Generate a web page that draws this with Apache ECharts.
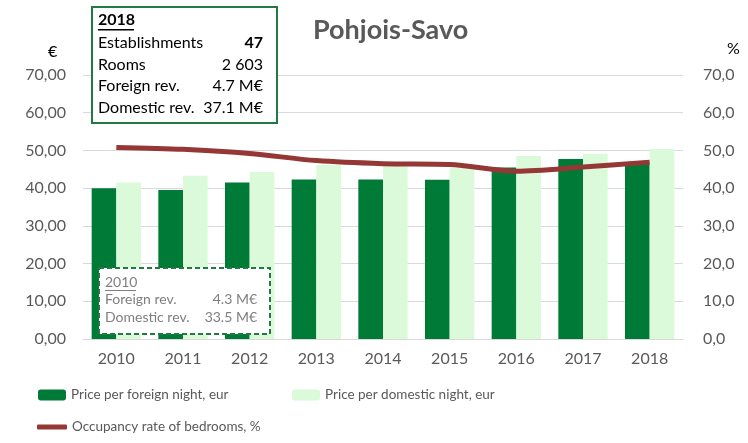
<!DOCTYPE html>
<html>
<head>
<meta charset="utf-8">
<script src="https://cdn.jsdelivr.net/npm/echarts@6/dist/echarts.min.js"></script>
<style>
  html, body { margin: 0; padding: 0; background: #fff; }
  #chart { width: 748px; height: 443px; }
</style>
</head>
<body>
<div id="chart"></div>
<script>
const years = ['2010', '2011', '2012', '2013', '2014', '2015', '2016', '2017', '2018']
const foreignPrice = [40.0, 39.5, 41.5, 42.3, 42.3, 42.2, 45.5, 47.7, 46.6]
const domesticPrice = [41.5, 43.3, 44.3, 46.2, 45.9, 45.4, 48.5, 49.1, 50.4]
const occupancy = [50.8, 50.3, 49.2, 47.3, 46.5, 46.3, 44.5, 45.6, 46.9]

const box2018 = [['Establishments', '47'], ['Rooms', '2 603'], ['Foreign rev.', '4.7 M€'], ['Domestic rev.', '37.1 M€']]
const box2010 = [['Foreign rev.', '4.3 M€'], ['Domestic rev.', '33.5 M€']]

const font = 'Lato, "Open Sans", sans-serif'
const grey = '#595959'
const green = '#217a43'

// text rows for the two info boxes
const boxTexts = []
boxTexts.push({ type: 'text', left: 98, top: 12, style: { text: '2018', font: 'bold 16px ' + font, fill: '#000' } })
boxTexts.push({ type: 'rect', left: 98, top: 29, shape: { width: 36, height: 1.5 }, style: { fill: '#000' } })
box2018.forEach((row, i) => {
  boxTexts.push({ type: 'text', left: 98, top: 35 + i * 21.5, style: { text: row[0], font: '16px ' + font, fill: '#000' } })
  boxTexts.push({
    type: 'text', right: 748 - 263, top: 35 + i * 21.5,
    style: { text: row[1], font: (i === 0 ? 'bold ' : '') + '16px ' + font, fill: '#000' }
  })
})
boxTexts.push({ type: 'text', left: 105, top: 275, style: { text: '2010', font: '14px ' + font, fill: '#7f7f7f' } })
boxTexts.push({ type: 'rect', left: 105, top: 290, shape: { width: 31, height: 1 }, style: { fill: '#7f7f7f' } })
box2010.forEach((row, i) => {
  boxTexts.push({ type: 'text', left: 105, top: 292 + i * 18, style: { text: row[0], font: '14px ' + font, fill: '#7f7f7f' } })
  boxTexts.push({ type: 'text', right: 748 - 257, top: 292 + i * 18, style: { text: row[1], font: '14px ' + font, fill: '#7f7f7f' } })
})

const chart = echarts.init(document.getElementById('chart'))
chart.setOption({
  animation: false,
  textStyle: { fontFamily: font },
  title: {
    text: 'Pohjois-Savo',
    left: 308,
    top: 12,
    textStyle: { fontSize: 27, fontWeight: 'bold', color: grey, fontFamily: font }
  },
  grid: { left: 83, right: 65, top: 75, bottom: 104 },
  legend: [
    {
      left: 38, top: 388, padding: 0, itemWidth: 28, itemHeight: 11, itemGap: 4,
      data: ['Price per foreign night, eur'],
      textStyle: { fontSize: 13.5, color: grey }
    },
    {
      left: 292, top: 388, padding: 0, itemWidth: 28, itemHeight: 11,
      data: ['Price per domestic night, eur'],
      textStyle: { fontSize: 13.5, color: grey }
    },
    {
      left: 37, top: 420, padding: 0, itemWidth: 30, itemHeight: 5,
      data: [{ name: 'Occupancy rate of bedrooms, %', icon: 'roundRect' }],
      textStyle: { fontSize: 13.5, color: grey }
    }
  ],
  xAxis: {
    type: 'category',
    data: years,
    axisTick: { show: false },
    axisLine: { lineStyle: { color: '#d9d9d9' } },
    axisLabel: { fontSize: 16, color: grey, margin: 12 }
  },
  yAxis: [
    {
      type: 'value', min: 0, max: 70, interval: 10,
      axisLabel: { fontSize: 16, color: grey, margin: 17, formatter: v => v.toFixed(2).replace('.', ',') },
      splitLine: { lineStyle: { color: '#d9d9d9', width: 1 } }
    },
    {
      type: 'value', min: 0, max: 70, interval: 10,
      axisLabel: { fontSize: 16, color: grey, margin: 20, formatter: v => v.toFixed(1).replace('.', ',') },
      splitLine: { show: false }
    }
  ],
  series: [
    {
      name: 'Price per foreign night, eur',
      type: 'bar',
      data: foreignPrice,
      barGap: '0%',
      barCategoryGap: '26%',
      itemStyle: { color: '#007a37' }
    },
    {
      name: 'Price per domestic night, eur',
      type: 'bar',
      data: domesticPrice,
      itemStyle: { color: '#dafada' }
    },
    {
      name: 'Occupancy rate of bedrooms, %',
      type: 'line',
      yAxisIndex: 1,
      data: occupancy,
      smooth: 0.3,
      symbol: 'none',
      lineStyle: { color: '#953735', width: 5 },
      itemStyle: { color: '#953735' },
      z: 5
    }
  ],
  graphic: [
    { type: 'text', left: 48, top: 44, style: { text: '€', font: '16px ' + font, fill: '#000' } },
    { type: 'text', left: 727, top: 41, style: { text: '%', font: '16px ' + font, fill: '#000' } },
    {
      type: 'rect', left: 91, top: 6, z: 10,
      shape: { width: 185, height: 116 },
      style: { fill: '#fff', stroke: green, lineWidth: 2 }
    },
    {
      type: 'rect', left: 98, top: 267, z: 10,
      shape: { width: 171, height: 66 },
      style: { fill: '#fff', stroke: green, lineWidth: 2, lineDash: [5, 3] }
    },
    ...boxTexts.map(t => Object.assign({ z: 11 }, t))
  ]
})
</script>
</body>
</html>
